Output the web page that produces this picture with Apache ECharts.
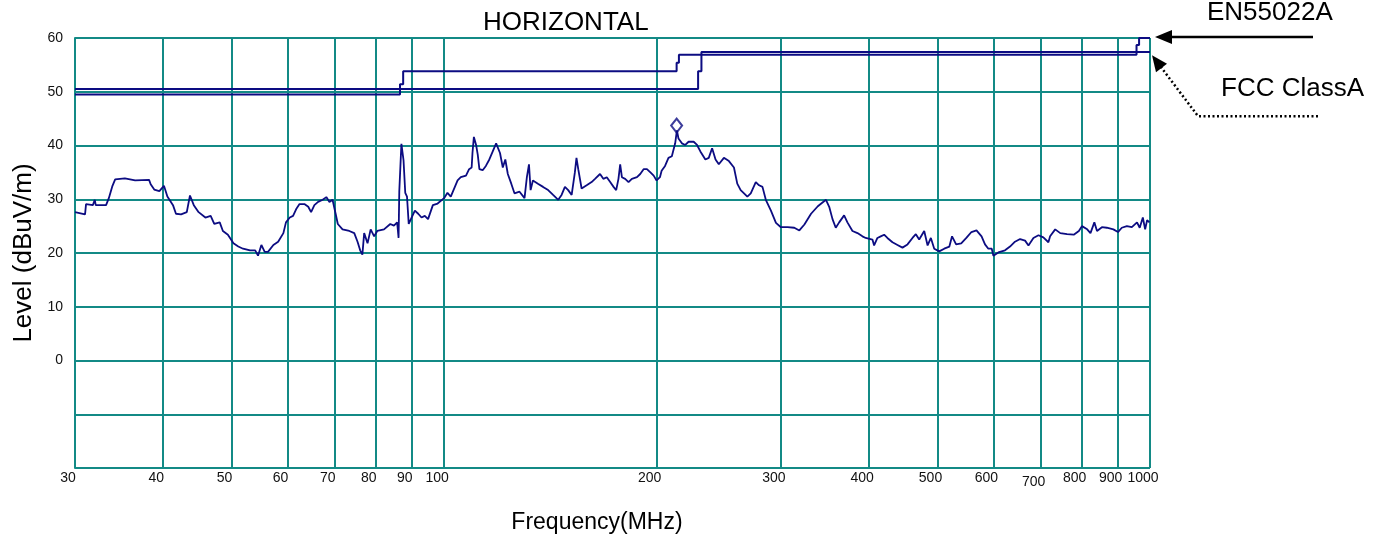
<!DOCTYPE html>
<html>
<head>
<meta charset="utf-8">
<title>HORIZONTAL</title>
<script src="https://cdn.jsdelivr.net/npm/echarts@6/dist/echarts.min.js"></script>
<style>
  html, body { margin: 0; background: #fff; }
  #chart { width: 1385px; height: 542px; }
</style>
</head>
<body>
<div id="chart"></div>
<script>
// tick labels on the log frequency axis (MHz)
const freqTicks = [30, 40, 50, 60, 70, 80, 90, 100, 200, 300, 400, 500, 600, 700, 800, 900, 1000]

const traceFreq = [
  30.0, 31.0, 31.1, 31.8, 32.0, 32.1, 33.2, 33.5, 33.9, 34.2, 34.4, 35.3, 36.5, 38.2, 38.4, 38.85, 39.5,
  40.1, 40.55, 41.3, 41.7, 42.4, 43.2, 43.65, 44.2, 44.9, 45.9, 46.7, 47.25, 48.1, 48.6, 49.4,
  50.3, 51.1, 51.9, 53.1, 54.0, 54.5, 55.1, 55.7, 56.3, 57.3, 58.2, 59.2, 59.7,
  60.45, 61.1, 61.8, 62.4, 63.4, 64.2, 64.8, 65.5, 66.3, 67.3, 68.1, 68.8, 69.5,
  70.2, 70.7, 71.8, 73.4, 74.6, 75.4, 76.05, 76.6, 77.05, 77.9, 78.7, 79.6,
  80.4, 82.2, 83.9, 84.9, 85.8, 86.2, 86.4, 87.0, 87.6, 88.1, 88.6, 89.1, 89.5,
  90.9, 91.9, 92.9, 93.9, 94.9, 96.4, 97.9, 100, 101.1, 102.2,
  104.5, 105.6, 107.4, 108.5, 109.4, 109.7, 110.2, 111.0, 111.6, 112.2, 113.4, 114.6, 115.9, 117.2, 118.5, 119.1,
  120.0, 121.1, 122.1, 123.1, 124.5, 125.8, 127.9, 130.0, 131.0, 131.9, 132.6, 133.6, 135.8, 138.1,
  140.4, 142.7, 145.1, 146.7, 148.3, 149.9, 151.6, 153.2, 154.0, 154.9, 156.6, 159.2,
  161.8, 163.6, 166.3, 168.1, 170.0, 171.9, 173.8, 175.3, 176.6, 177.6, 178.6, 180.5, 182.5, 184.5, 187.6, 189.6,
  191.7, 193.8, 196.0, 198.1, 200.0, 202.2, 203.3, 205.6, 207.9, 210.2, 212.5, 213.7, 214.8, 217.2, 219.6,
  222.0, 225.7, 228.2, 230.7, 234.5, 237.1, 239.7, 242.4, 245.0, 249.1, 253.2, 257.4, 260.2, 263.1, 266.0, 268.9,
  271.9, 276.4, 279.4, 282.5, 285.6, 290.4, 295.2, 300.0, 306.6, 313.4, 318.6, 323.9, 331.0, 338.4, 347.5,
  351.2, 355.0, 358.8, 362.8, 368.7, 372.7, 378.9, 385.1, 391.4, 395.6,
  404.4, 406.6, 411.0, 415.5, 420.1, 424.6, 431.7, 438.8, 446.0, 453.4, 460.8, 465.9, 471.0, 478.8, 484.1, 489.3, 494.7,
  502.8, 511.1, 519.7, 524.3, 531.3, 540.2, 549.3, 558.5, 567.8, 577.3, 583.8, 590.2, 596.8,
  600.0, 609.8, 623.2, 633.4, 643.8, 654.6, 665.3, 672.7, 683.7, 695.0,
  706.2, 717.9, 721.9, 734.0, 746.2, 762.9, 779.8, 792.9,
  800.9, 814.7, 823.5, 834.0, 841.3, 854.8, 868.6, 887.4,
  900.8, 912.1, 927.3, 942.5, 958.5, 967.0, 976.9, 984.3, 990.6, 998.5,
]
const traceLevel = [
  27.6, 27.2, 29.1, 28.9, 29.9, 28.9, 28.9, 30.2, 32.5, 33.7, 33.6, 33.9, 33.5, 33.6, 32.8, 31.8, 31.5,
  32.5, 30.5, 28.9, 27.3, 27.2, 27.6, 30.7, 28.9, 27.6, 26.6, 26.9, 25.4, 25.7, 24.1, 23.4,
  21.8, 21.2, 20.8, 20.5, 20.5, 19.5, 21.5, 20.2, 20.2, 21.5, 22.1, 23.7, 25.7,
  26.6, 26.9, 28.3, 29.1, 29.1, 28.6, 27.6, 28.9, 29.5, 29.9, 30.4, 29.5, 29.9,
  27.3, 25.4, 24.4, 24.1, 23.7, 22.1, 20.5, 19.7, 23.7, 21.8, 24.4, 23.1,
  24.1, 24.4, 25.4, 25.1, 25.7, 22.8, 31.5, 40.3, 37.3, 31.2, 30.5, 25.4, 25.1,
  27.9, 27.3, 26.6, 26.9, 26.3, 28.9, 29.2, 30.2, 31.2, 30.5,
  33.5, 34.1, 34.4, 35.6, 35.9, 38.6, 41.6, 40.1, 38.3, 35.6, 35.4, 36.2, 37.4, 38.9, 40.4, 40.7,
  38.6, 35.9, 37.4, 34.7, 32.9, 31.1, 31.4, 30.2, 34.1, 36.5, 31.7, 33.5, 32.9, 32.3,
  31.7, 30.8, 29.9, 30.8, 32.3, 31.7, 30.8, 35.0, 37.7, 35.6, 32.0, 32.6,
  33.2, 33.8, 34.7, 33.8, 34.1, 33.2, 32.3, 31.7, 33.8, 36.5, 34.1, 33.8, 33.2, 33.8, 34.1, 34.7,
  35.6, 35.6, 35.0, 34.4, 33.5, 34.1, 35.3, 36.2, 37.7, 38.0, 40.4, 42.8, 41.3, 40.4, 40.1,
  40.7, 40.7, 40.1, 38.9, 37.4, 37.7, 39.5, 37.4, 36.5, 37.7, 37.1, 35.9, 32.9, 31.7, 31.1, 30.5,
  31.1, 33.2, 32.6, 32.3, 29.9, 27.9, 25.6, 24.8, 24.8, 24.7, 24.2, 25.3, 27.3, 28.7, 29.9,
  28.6, 26.3, 24.7, 25.7, 27.0, 25.7, 24.1, 23.7, 23.1, 22.8,
  22.5, 21.4, 22.8, 23.1, 23.4, 22.8, 22.0, 21.5, 21.0, 21.6, 22.8, 23.5, 22.5, 24.1, 21.4, 22.8, 20.8,
  20.3, 20.8, 21.2, 23.1, 21.6, 21.8, 22.8, 23.9, 24.2, 23.1, 21.6, 20.8, 20.8,
  19.5, 20.1, 20.5, 21.2, 22.1, 22.6, 22.3, 21.4, 22.8, 23.3,
  22.9, 22.0, 23.1, 24.4, 23.7, 23.5, 23.4, 24.1,
  25.0, 24.4, 23.7, 25.7, 24.1, 24.8, 24.7, 24.4,
  23.9, 24.7, 25.0, 24.8, 25.7, 24.7, 26.6, 24.4, 26.1, 25.7,
]

// limit lines (step points included as drawn)
const fccFreq = [30, 86.6, 86.6, 87.5, 87.5, 213.5, 213.5, 215.1, 215.1, 957, 957, 965, 965, 1000]
const fccLevel = [49.5, 49.5, 51.4, 51.4, 53.8, 53.8, 55.4, 55.4, 56.9, 56.9, 58.7, 58.7, 60, 60]
const enFreq = [30, 229.0, 229.0, 231.5, 231.5, 1000]
const enLevel = [50.5, 50.5, 53.8, 53.8, 57.4, 57.4]

// peak marker
const peakFreq = [213.5]
const peakLevel = [43.7]

const lg = v => Math.log10(v)
const pairs = (fs, ls) => fs.map((f, i) => [lg(f), ls[i]])
const gridColor = '#138a86'
const navy = '#0c0c82'
const fontFamily = '"Liberation Sans", Arial, sans-serif'

const chart = echarts.init(document.getElementById('chart'))

chart.setOption({
  animation: false,
  backgroundColor: '#fff',
  title: {
    text: 'HORIZONTAL',
    left: 483,
    top: 10,
    padding: 0,
    textStyle: { fontSize: 26, fontWeight: 'normal', color: '#000', fontFamily },
  },
  grid: { left: 75, right: 235, top: 38, bottom: 74 },
  xAxis: {
    type: 'value',
    min: lg(30),
    max: lg(1000),
    axisLine: { show: true, lineStyle: { color: gridColor, width: 2 } },
    axisTick: { show: false, customValues: freqTicks.map(lg) },
    axisLabel: {
      customValues: freqTicks.map(lg),
      formatter: v => {
        const f = Math.round(Math.pow(10, v))
        return f === 700 ? '{low|700}' : String(f)
      },
      color: '#111',
      fontSize: 14,
      fontFamily,
      margin: 3,
      padding: [0, 14, 0, 0],
      rich: { low: { fontSize: 14, fontFamily, color: '#111', padding: [4, 0, 0, 0] } },
    },
    splitLine: { show: true, lineStyle: { color: gridColor, width: 2 } },
    name: 'Frequency(MHz)',
    nameLocation: 'middle',
    nameGap: 43,
    nameTextStyle: { fontSize: 23, color: '#000', fontFamily, padding: [0, 31, 0, 0] },
  },
  yAxis: {
    type: 'value',
    min: -20,
    max: 60,
    interval: 10,
    axisLine: { show: true, lineStyle: { color: gridColor, width: 2 } },
    axisTick: { show: false },
    axisLabel: {
      formatter: v => (v < 0 ? '' : String(v)),
      color: '#111',
      fontSize: 14,
      fontFamily,
      margin: 12,
    },
    splitLine: { show: true, lineStyle: { color: gridColor, width: 2 } },
    name: 'Level (dBuV/m)',
    nameLocation: 'middle',
    nameGap: 38,
    nameTextStyle: { fontSize: 26, color: '#000', fontFamily },
  },
  series: [
    {
      name: 'FCC ClassA',
      type: 'line',
      data: pairs(fccFreq, fccLevel),
      symbol: 'none',
      lineStyle: { color: navy, width: 2 },
    },
    {
      name: 'EN55022A',
      type: 'line',
      data: pairs(enFreq, enLevel),
      symbol: 'none',
      lineStyle: { color: navy, width: 2 },
    },
    {
      name: 'Level',
      type: 'line',
      data: pairs(traceFreq, traceLevel),
      symbol: 'none',
      lineStyle: { color: navy, width: 1.8 },
    },
    {
      name: 'Peak',
      type: 'scatter',
      data: pairs(peakFreq, peakLevel),
      symbol: 'diamond',
      symbolSize: [11, 14],
      itemStyle: { color: 'rgba(0,0,0,0)', borderColor: navy, borderWidth: 2 },
    },
  ],
})

// arrows pointing at the two limit lines at the right edge
const en = chart.convertToPixel({ gridIndex: 0 }, [lg(1000), 60])
const fcc = chart.convertToPixel({ gridIndex: 0 }, [lg(1000), 57])
const enTip = [en[0] + 5, en[1] - 1]
const fccTip = [fcc[0] + 2, fcc[1] + 1]

chart.setOption({
  graphic: [
    {
      type: 'line',
      shape: { x1: enTip[0] + 14, y1: enTip[1], x2: enTip[0] + 158, y2: enTip[1] },
      style: { stroke: '#000', lineWidth: 2.5 },
    },
    {
      type: 'polygon',
      shape: { points: [enTip, [enTip[0] + 17, enTip[1] - 7], [enTip[0] + 17, enTip[1] + 7]] },
      style: { fill: '#000' },
    },
    {
      type: 'polyline',
      shape: {
        points: [
          [fccTip[0] + 166, fccTip[1] + 61],
          [fccTip[0] + 46, fccTip[1] + 61],
          [fccTip[0] + 9, fccTip[1] + 12],
        ],
      },
      style: { stroke: '#000', lineWidth: 2.5, lineDash: [2, 2.5], fill: null },
    },
    {
      type: 'polygon',
      shape: {
        points: [fccTip, [fccTip[0] + 15, fccTip[1] + 8.6], [fccTip[0] + 4, fccTip[1] + 17]],
      },
      style: { fill: '#000' },
    },
    {
      type: 'text',
      x: 1207,
      y: 13,
      style: { text: 'EN55022A', fontSize: 26, fontFamily, fill: '#000', verticalAlign: 'middle' },
    },
    {
      type: 'text',
      x: 1221,
      y: 89,
      style: { text: 'FCC ClassA', fontSize: 26, fontFamily, fill: '#000', verticalAlign: 'middle' },
    },
  ],
})
</script>
</body>
</html>
